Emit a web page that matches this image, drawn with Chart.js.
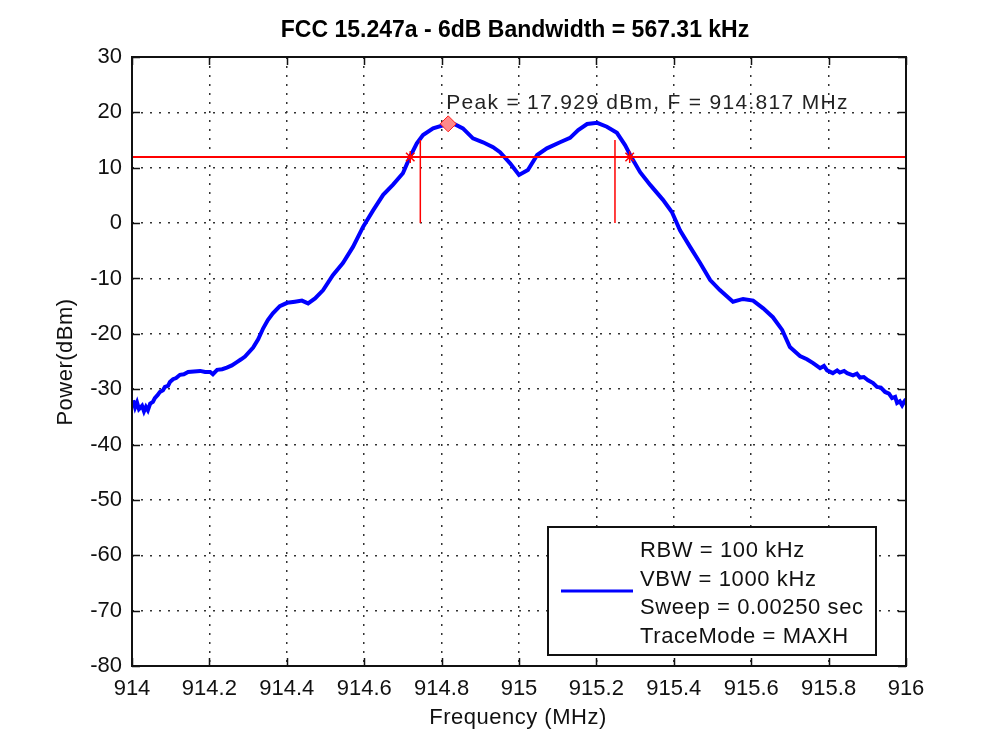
<!DOCTYPE html>
<html>
<head>
<meta charset="utf-8">
<script src="https://cdn.jsdelivr.net/npm/chart.js@4.4.1/dist/chart.umd.min.js"></script>
<style>
    html, body { margin: 0; padding: 0; background: #ffffff; }
    .chart_box { width: 1000px; height: 750px; }
</style>
</head>
<body>
<div class="chart_box"><canvas id="spectrum_chart" width="1000" height="750"></canvas></div>
<script>
"use strict";
// Trace - Frequency (MHz) / Power (dBm)
const freq_mhz = [914.003, 914.008, 914.013, 914.018, 914.026, 914.031, 914.036, 914.041, 914.047, 914.054,
    914.059, 914.067, 914.072, 914.080, 914.085, 914.093, 914.098, 914.106, 914.114, 914.124,
    914.134, 914.145, 914.160, 914.176, 914.189, 914.202, 914.209, 914.220, 914.233, 914.245,
    914.258, 914.271, 914.282, 914.292, 914.313, 914.326, 914.339, 914.351, 914.364, 914.382,
    914.401, 914.421, 914.439, 914.455, 914.473, 914.494, 914.519, 914.545, 914.571, 914.597,
    914.623, 914.649, 914.674, 914.700, 914.718, 914.736, 914.752, 914.778, 914.817, 914.835,
    914.855, 914.881, 914.907, 914.933, 914.951, 914.977, 915.000, 915.023, 915.047, 915.072,
    915.106, 915.132, 915.153, 915.176, 915.202, 915.227, 915.253, 915.274, 915.292, 915.313,
    915.339, 915.372, 915.395, 915.416, 915.442, 915.468, 915.494, 915.519, 915.553, 915.579,
    915.605, 915.631, 915.656, 915.680, 915.700, 915.726, 915.744, 915.760, 915.778, 915.788,
    915.796, 915.811, 915.822, 915.829, 915.840, 915.848, 915.863, 915.873, 915.881, 915.891,
    915.902, 915.915, 915.925, 915.935, 915.946, 915.956, 915.964, 915.972, 915.977, 915.984,
    915.990, 915.995, 916.000];
const power_dbm = [-32.0, -33.3, -32.4, -33.6, -33.0, -34.0, -33.2, -33.8, -32.6, -32.3,
    -31.6, -31.0, -30.5, -30.2, -29.6, -29.4, -28.7, -28.2, -28.0, -27.4,
    -27.3, -26.9, -26.8, -26.7, -26.9, -26.9, -27.3, -26.5, -26.4, -26.1,
    -25.7, -25.1, -24.6, -24.1, -22.5, -21.0, -19.0, -17.5, -16.3, -15.0,
    -14.4, -14.2, -14.0, -14.5, -13.6, -12.1, -9.4, -7.2, -4.3, -0.7,
    2.3, 5.1, 6.9, 9.0, 11.9, 14.4, 15.9, 17.1, 17.929, 17.8,
    17.1, 15.3, 14.6, 13.7, 12.8, 10.8, 8.7, 9.6, 12.3, 13.5,
    14.6, 15.4, 16.8, 17.9, 18.1, 17.4, 16.3, 14.1, 11.7, 9.2,
    6.9, 4.2, 2.0, -1.3, -4.3, -7.2, -10.3, -12.1, -14.2, -13.7,
    -14.0, -15.4, -17.0, -19.3, -22.4, -24.0, -24.6, -25.3, -26.2, -25.8,
    -26.6, -27.1, -26.6, -27.0, -26.7, -27.1, -27.5, -27.2, -27.9, -27.8,
    -28.4, -28.9, -29.6, -29.7, -30.5, -30.8, -31.6, -31.4, -32.5, -32.2,
    -32.9, -32.3, -31.8];

// Markers
const peak_mhz = 914.817;
const peak_dbm = 17.929;
const threshold_dbm = 11.929; // Peak - 6 dB
const cross_mhz = [914.719, 915.286];
const marker_line_mhz = [914.745, 915.248];
const marker_line_dbm = [0, 15];

// Axes
const x_tick_values = [914, 914.2, 914.4, 914.6, 914.8, 915, 915.2, 915.4, 915.6, 915.8, 916];
const x_tick_labels = ["914", "914.2", "914.4", "914.6", "914.8", "915", "915.2", "915.4", "915.6", "915.8", "916"];
const y_tick_values = [30, 20, 10, 0, -10, -20, -30, -40, -50, -60, -70, -80];
const y_tick_labels = ["30", "20", "10", "0", "-10", "-20", "-30", "-40", "-50", "-60", "-70", "-80"];

// Texts
const chart_title = "FCC 15.247a - 6dB Bandwidth = 567.31 kHz";
const x_title = "Frequency (MHz)";
const y_title = "Power(dBm)";
const peak_text = "Peak = 17.929 dBm, F = 914.817 MHz";
const legend_lines = ["RBW = 100 kHz", "VBW = 1000 kHz", "Sweep = 0.00250 sec", "TraceMode = MAXH"];

const font_family = "'Liberation Sans', Arial, sans-serif";

document.addEventListener("DOMContentLoaded", function () {
    const canvas = document.querySelector("#spectrum_chart");

    const trace_points = freq_mhz.map(function (f, i) { return { x: f, y: power_dbm[i] }; });
    const threshold_points = [{ x: x_tick_values[0], y: threshold_dbm }, { x: x_tick_values[x_tick_values.length - 1], y: threshold_dbm }];
    const cross_points = cross_mhz.map(function (f) { return { x: f, y: threshold_dbm }; });

    // Frame, inward ticks, titles, peak text, legend box
    const decorations = {
        id: "matlabDecorations",
        afterDatasetsDraw: function (chart) {
            const ctx = chart.ctx;
            const area = chart.chartArea;
            const x_scale = chart.scales.x;
            const y_scale = chart.scales.y;
            ctx.save();

            // Box
            ctx.strokeStyle = "#111111";
            ctx.lineWidth = 2;
            ctx.strokeRect(area.left, area.top, area.right - area.left, area.bottom - area.top);

            // Ticks inside
            const tick_len = 8;
            ctx.lineWidth = 1.5;
            ctx.beginPath();
            x_tick_values.forEach(function (v) {
                const px = Math.round(x_scale.getPixelForValue(v)) + 0.5;
                ctx.moveTo(px, area.bottom); ctx.lineTo(px, area.bottom - tick_len);
                ctx.moveTo(px, area.top); ctx.lineTo(px, area.top + tick_len);
            });
            y_tick_values.forEach(function (v) {
                const py = Math.round(y_scale.getPixelForValue(v)) + 0.5;
                ctx.moveTo(area.left, py); ctx.lineTo(area.left + tick_len, py);
                ctx.moveTo(area.right, py); ctx.lineTo(area.right - tick_len, py);
            });
            ctx.stroke();

            // Title
            ctx.fillStyle = "#000000";
            ctx.textAlign = "center";
            ctx.textBaseline = "middle";
            ctx.font = "bold 23px " + font_family;
            ctx.fillText(chart_title, 515, 31);

            // Axis titles
            ctx.font = "22px " + font_family;
            ctx.letterSpacing = "0.5px";
            ctx.fillStyle = "#111111";
            ctx.fillText(x_title, 518, 718);
            ctx.save();
            ctx.translate(66, 362);
            ctx.rotate(-Math.PI / 2);
            ctx.fillText(y_title, 0, 0);
            ctx.restore();

            // Peak text
            ctx.font = "21px " + font_family;
            ctx.textAlign = "left";
            ctx.letterSpacing = "1.3px";
            ctx.fillStyle = "#222222";
            ctx.fillText(peak_text, x_scale.getPixelForValue(peak_mhz) - 2, y_scale.getPixelForValue(peak_dbm) - 21);

            // Legend
            const box = { left: 548, top: 527, right: 876, bottom: 655 };
            ctx.fillStyle = "#ffffff";
            ctx.fillRect(box.left, box.top, box.right - box.left, box.bottom - box.top);
            ctx.strokeStyle = "#111111";
            ctx.lineWidth = 2;
            ctx.strokeRect(box.left, box.top, box.right - box.left, box.bottom - box.top);
            ctx.strokeStyle = "#0000ff";
            ctx.lineWidth = 3;
            ctx.beginPath();
            ctx.moveTo(561, 591);
            ctx.lineTo(633, 591);
            ctx.stroke();
            ctx.fillStyle = "#111111";
            ctx.font = "22px " + font_family;
            ctx.letterSpacing = "0.6px";
            ctx.textAlign = "left";
            legend_lines.forEach(function (line, i) {
                ctx.fillText(line, 640, 551 + i * 28.5);
            });
            ctx.letterSpacing = "0px";

            ctx.restore();
        }
    };

    new Chart(canvas, {
        type: "line",
        data: {
            datasets: [
                {
                    label: "trace",
                    data: trace_points,
                    borderColor: "#0000ff",
                    borderWidth: 4,
                    pointRadius: 0,
                    tension: 0,
                    order: 5,
                },
                {
                    label: "threshold",
                    data: threshold_points,
                    borderColor: "#ff0000",
                    borderWidth: 2,
                    pointRadius: 0,
                    order: 1,
                },
                {
                    label: "marker left",
                    data: marker_line_dbm.map(function (v) { return { x: marker_line_mhz[0], y: v }; }),
                    borderColor: "#ff0000",
                    borderWidth: 1.5,
                    pointRadius: 0,
                    order: 1,
                },
                {
                    label: "marker right",
                    data: marker_line_dbm.map(function (v) { return { x: marker_line_mhz[1], y: v }; }),
                    borderColor: "#ff0000",
                    borderWidth: 1.5,
                    pointRadius: 0,
                    order: 1,
                },
                {
                    label: "crossings",
                    data: cross_points,
                    showLine: false,
                    pointStyle: "star",
                    pointRadius: 6,
                    borderColor: "#ff0000",
                    borderWidth: 1.5,
                    order: 0,
                },
                {
                    label: "peak",
                    data: [{ x: peak_mhz, y: peak_dbm }],
                    showLine: false,
                    pointStyle: "rectRot",
                    pointRadius: 8,
                    backgroundColor: "#ff8a8a",
                    borderColor: "#ff2020",
                    borderWidth: 1,
                    order: 0,
                },
            ]
        },
        options: {
            animation: false,
            responsive: false,
            devicePixelRatio: 1,
            layout: {
                padding: { top: 57, right: 94, left: 0, bottom: 0 },
            },
            scales: {
                x: {
                    type: "linear",
                    min: 914,
                    max: 916,
                    afterBuildTicks: function (scale) {
                        scale.ticks = x_tick_values.map(function (v) { return { value: v }; });
                    },
                    afterFit: function (scale) {
                        scale.height = 84;
                    },
                    grid: {
                        color: "#333333",
                        lineWidth: 1.5,
                        drawTicks: false,
                    },
                    border: {
                        display: false,
                        dash: [2, 7],
                    },
                    ticks: {
                        padding: 10,
                        color: "#111111",
                        maxRotation: 0,
                        autoSkip: false,
                        font: { family: font_family, size: 22 },
                        callback: function (value, index) {
                            return x_tick_labels[index];
                        }
                    }
                },
                y: {
                    type: "linear",
                    min: -80,
                    max: 30,
                    afterBuildTicks: function (scale) {
                        scale.ticks = y_tick_values.slice().reverse().map(function (v) { return { value: v }; });
                    },
                    afterFit: function (scale) {
                        scale.width = 132;
                    },
                    grid: {
                        color: "#333333",
                        lineWidth: 1.5,
                        drawTicks: false,
                    },
                    border: {
                        display: false,
                        dash: [2, 7],
                    },
                    ticks: {
                        padding: 10,
                        color: "#111111",
                        autoSkip: false,
                        font: { family: font_family, size: 22 },
                        callback: function (value) {
                            return y_tick_labels[y_tick_values.indexOf(value)];
                        }
                    }
                },
            },
            plugins: {
                legend: { display: false },
                title: { display: false },
                tooltip: { enabled: false },
            },
        },
        plugins: [decorations],
    });
});
</script>
</body>
</html>
